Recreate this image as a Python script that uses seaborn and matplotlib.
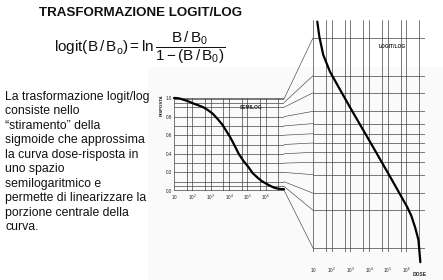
import numpy as np
import pandas as pd
import matplotlib
matplotlib.use("Agg")
import matplotlib.pyplot as plt
import seaborn as sns
from matplotlib.patches import ConnectionPatch, Rectangle
from matplotlib.ticker import FixedLocator, FixedFormatter, NullLocator

# ---------------- data ----------------
title = "TRASFORMAZIONE LOGIT/LOG"
formula = (r"$\mathrm{logit(B\,/\,B_o)=ln}\,"
           r"\dfrac{\mathrm{B\,/\,B_0}}{\mathrm{1-(B\,/\,B_0)}}$")
body_lines = [
    "La trasformazione logit/log",
    "consiste nello",
    "\u201cstiramento\u201d della",
    "sigmoide che approssima",
    "la curva dose-risposta in",
    "uno spazio",
    "semilogaritmico e",
    "permette di linearizzare la",
    "porzione centrale della",
    "curva.",
]

# semilog panel: response vs log10(dose)
semilog_exp = [1.0, 1.1, 1.3, 1.54, 1.8, 2.07, 2.35, 2.6, 2.85, 3.12, 3.4, 3.65, 3.87,
               4.09, 4.3, 4.53, 4.8, 5.05, 5.3, 5.58, 5.8, 6.02, 6.25, 6.46, 6.7, 6.9, 7.0]
semilog_resp = [1.0, 1.0, 0.995, 0.98, 0.963, 0.94, 0.92, 0.90, 0.87, 0.83, 0.77, 0.71, 0.64,
                0.57, 0.49, 0.40, 0.32, 0.26, 0.19, 0.14, 0.105, 0.08, 0.055, 0.036, 0.024, 0.02, 0.02]

# logit/log panel: response vs log10(dose)
logit_exp = [1.23, 1.34, 1.55, 1.91, 2.36, 2.99, 4.12, 5.14, 6.05, 6.27, 6.48, 6.65, 6.75]
logit_resp = [0.99508, 0.99053, 0.9792, 0.9577, 0.9214, 0.825, 0.49, 0.184, 0.057, 0.0395,
              0.0237, 0.0141, 0.0054]

semilog_hgrid = [0.0, 0.01, 0.05, 0.1, 0.2, 0.3, 0.4, 0.5, 0.6, 0.7, 0.8, 0.9, 0.95, 0.99, 1.0]
semilog_yticks = [0.0, 0.2, 0.4, 0.6, 0.8, 1.0]
semilog_ylabels = ["0.0", "0.2", "0.4", "0.6", "0.8", "1.0"]
logit_hgrid = [0.01, 0.05, 0.1, 0.2, 0.3, 0.4, 0.5, 0.6, 0.7, 0.8, 0.9, 0.95, 0.99]
dose_major = [1e1, 1e2, 1e3, 1e4, 1e5, 1e6, 1e7]
dose_minor = [5e1, 5e2, 5e3, 5e4, 5e5, 5e6]
dose_labels = [r"$10$", r"$10^2$", r"$10^3$", r"$10^4$", r"$10^5$", r"$10^6$", ""]

semi_df = pd.DataFrame({"dose": 10 ** np.array(semilog_exp), "risposta": semilog_resp})
logit_df = pd.DataFrame({"dose": 10 ** np.array(logit_exp), "risposta": logit_resp})

# ---------------- style ----------------
sns.set_theme(style="white")
plt.rcParams["font.family"] = ["Liberation Sans", "DejaVu Sans"]
plt.rcParams["mathtext.fontset"] = "custom"
plt.rcParams["mathtext.rm"] = "Liberation Sans"
plt.rcParams["mathtext.it"] = "Liberation Sans:italic"
plt.rcParams["mathtext.bf"] = "Liberation Sans:bold"

W, H = 443, 280
fig = plt.figure(figsize=(W / 100, H / 100), dpi=100)
fig.patch.set_facecolor("white")

def fx(px):
    return px / W

def fy(py):
    return 1 - py / H

# faint background of the scanned figure
bg = Rectangle((fx(148), 0), 1 - fx(148), fy(67), transform=fig.transFigure,
               facecolor="#fafafa", edgecolor="none", zorder=-10)
fig.patches.append(bg)

gridc = "#444444"
gridlw = 0.5

# ---------------- semilog axes ----------------
ax1 = fig.add_axes([fx(174), fy(191), fx(284) - fx(174), (191 - 98) / H])
ax1.set_facecolor("none")
sns.lineplot(data=semi_df, x="dose", y="risposta", ax=ax1, color="black", lw=1.6, zorder=5)
ax1.set_xscale("log")
ax1.set_xlim(1e1, 1e7)
ax1.set_ylim(0, 1)
ax1.xaxis.set_major_locator(FixedLocator(dose_major))
ax1.xaxis.set_major_formatter(FixedFormatter(dose_labels))
ax1.xaxis.set_minor_locator(FixedLocator(dose_minor))
ax1.yaxis.set_major_locator(FixedLocator(semilog_yticks))
ax1.yaxis.set_major_formatter(FixedFormatter(semilog_ylabels))
ax1.yaxis.set_minor_locator(FixedLocator(semilog_hgrid))
ax1.grid(True, which="both", color=gridc, lw=gridlw)
ax1.tick_params(which="both", length=0, labelsize=3.3, pad=1.2, colors="#222222")
ax1.set_xlabel("")
ax1.set_ylabel("")
for ln in ax1.lines:
    ln.set_clip_on(False)
    ln.set_solid_joinstyle("round")
for s in ax1.spines.values():
    s.set_visible(False)

# ---------------- logit/log axes ----------------
ax2 = fig.add_axes([fx(313), fy(252), fx(425) - fx(313), (252 - 20) / H])
ax2.set_facecolor("none")
sns.lineplot(data=logit_df, x="dose", y="risposta", ax=ax2, color="black", lw=1.6, zorder=5)
ax2.set_xscale("log")
ax2.set_yscale("logit")
ax2.set_xlim(1e1, 1e7)
ax2.set_ylim(0.00841, 0.99542)
for ln in ax2.lines:
    ln.set_clip_on(False)
    ln.set_solid_joinstyle("round")
ax2.xaxis.set_major_locator(FixedLocator(dose_major))
ax2.xaxis.set_major_formatter(FixedFormatter(dose_labels))
ax2.xaxis.set_minor_locator(FixedLocator(dose_minor))
ax2.yaxis.set_major_locator(FixedLocator(logit_hgrid))
ax2.yaxis.set_minor_locator(NullLocator())
ax2.set_yticklabels([])
ax2.grid(True, which="both", color=gridc, lw=gridlw)
ax2.tick_params(which="both", length=0, labelsize=3.3, pad=10, colors="#222222")
ax2.set_xlabel("")
ax2.set_ylabel("")
for s in ax2.spines.values():
    s.set_visible(False)

# connectors between the two grids
for p in logit_hgrid:
    con = ConnectionPatch(xyA=(1e7, p), coordsA=ax1.transData,
                          xyB=(1e1, p), coordsB=ax2.transData,
                          color=gridc, lw=0.45)
    fig.add_artist(con)

# ---------------- texts ----------------
fig.text(fx(141), fy(13), title, ha="center", va="center", fontsize=9.6,
         fontweight="bold", color="#111111")
fig.text(fx(140), fy(48), formula, ha="center", va="center", fontsize=11, color="#111111")
for i, line in enumerate(body_lines):
    fig.text(fx(5), fy(100 + 14.45 * i), line, ha="left", va="baseline",
             fontsize=8.8, color="#111111")

fig.text(fx(162), fy(105), "RISPOSTA", rotation=90, ha="center", va="center",
         fontsize=3.2, fontweight="bold", color="#222222")
fig.text(fx(251), fy(107.5), "SEMILOG", ha="center", va="center",
         fontsize=3.5, fontweight="bold", color="#222222")
fig.text(fx(392.5), fy(47), "LOGIT/LOG", ha="center", va="center",
         fontsize=3.5, fontweight="bold", color="#222222")
fig.text(fx(419.5), fy(274.5), "DOSE", ha="center", va="center",
         fontsize=3.5, fontweight="bold", color="#222222")

fig.savefig("out.png", dpi=100, facecolor="white")
